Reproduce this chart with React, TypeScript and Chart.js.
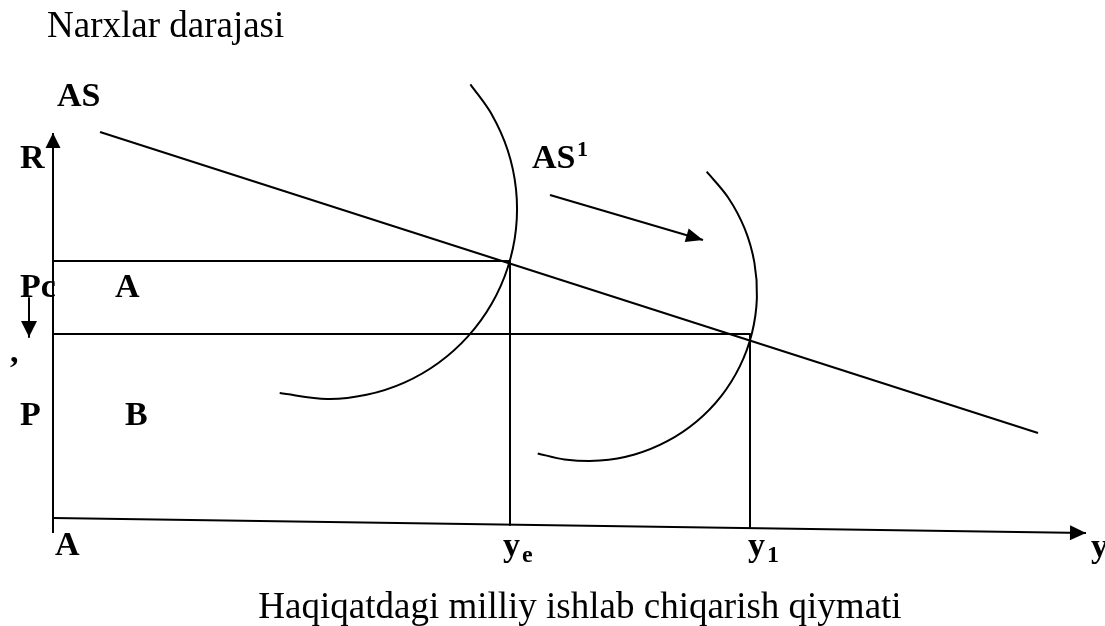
import React, { useEffect, useRef } from "react";
import { Chart, registerables } from "chart.js";

Chart.register(...registerables);

// Diagram geometry, in diagram units (x: output, y: price level drawn top-down)
const priceAxis = [{ x: 53, y: 533 }, { x: 53, y: 133 }];
const outputAxis = [{ x: 53, y: 518 }, { x: 1086, y: 533 }];
const asLine = [{ x: 100, y: 132 }, { x: 1038, y: 433 }];
const pcLevel = [{ x: 53, y: 261 }, { x: 510, y: 261 }];
const pLevel = [{ x: 53, y: 334 }, { x: 750, y: 334 }];
const yeDrop = [{ x: 510, y: 261 }, { x: 510, y: 525 }];
const y1Drop = [{ x: 750, y: 334 }, { x: 750, y: 527 }];
const curveOne = [
  { x: 470.4, y: 84.3 }, { x: 491.5, y: 114 }, { x: 507.7, y: 150.3 }, { x: 516, y: 189.1 },
  { x: 516, y: 228.9 }, { x: 507.7, y: 267.7 }, { x: 491.5, y: 304 }, { x: 468.2, y: 336.1 },
  { x: 438.7, y: 362.7 }, { x: 404.3, y: 382.6 }, { x: 366.5, y: 394.8 }, { x: 327, y: 399 },
  { x: 279.7, y: 393 },
];
const curveTwo = [
  { x: 706.7, y: 171.7 }, { x: 728.1, y: 197.5 }, { x: 744.7, y: 228.7 }, { x: 754.4, y: 262.7 },
  { x: 756.9, y: 297.9 }, { x: 752, y: 332.9 }, { x: 739.9, y: 366.1 }, { x: 721.2, y: 396.1 },
  { x: 696.6, y: 421.5 }, { x: 667.3, y: 441.2 }, { x: 634.6, y: 454.5 }, { x: 599.8, y: 460.6 },
  { x: 564.5, y: 459.4 }, { x: 537.7, y: 453.4 },
];
const shiftArrow = [{ x: 550, y: 195 }, { x: 703, y: 240 }];
const priceDropArrow = [{ x: 29, y: 298 }, { x: 29, y: 337 }];

const labelTexts = ["Narxlar darajasi", "AS", "R", "Pc", "A", ",", "P", "B", "AS", "1", "A", "y", "e", "y", "1", "y", "Haqiqatdagi milliy ishlab chiqarish qiymati"];
const labelX = [47, 57, 20, 20, 115, 10, 20, 125, 532, 577, 55, 503, 522, 748, 767, 1091, 580];
const labelY = [37, 106, 168, 297, 297, 362, 425, 425, 168, 156, 555, 556, 562, 556, 562, 557, 618];
const labelSize = [37, 34, 34, 34, 34, 34, 34, 34, 34, 22, 34, 34, 24, 34, 24, 34, 37];
const labelBold = [false, true, true, true, true, true, true, true, true, true, true, true, true, true, true, true, false];
const labelAlign = ["left", "left", "left", "left", "left", "left", "left", "left", "left", "left", "left", "left", "left", "left", "left", "left", "center"];

const FONT = '"Liberation Serif", "Times New Roman", serif';

const arrowPlugin = {
  id: "arrowHeads",
  afterDatasetsDraw(chart: any) {
    const ctx = chart.ctx;
    chart.data.datasets.forEach((ds: any, i: number) => {
      if (!ds.arrowEnd) return;
      const meta = chart.getDatasetMeta(i);
      const pts = meta.data;
      if (pts.length < 2) return;
      const a = pts[pts.length - 2];
      const b = pts[pts.length - 1];
      const ang = Math.atan2(b.y - a.y, b.x - a.x);
      const len = ds.arrowLen || 16;
      const hw = ds.arrowHalf || 7;
      ctx.save();
      ctx.translate(b.x, b.y);
      ctx.rotate(ang);
      ctx.beginPath();
      ctx.moveTo(0, 0);
      ctx.lineTo(-len, -hw);
      ctx.lineTo(-len, hw);
      ctx.closePath();
      ctx.fillStyle = "#000";
      ctx.fill();
      ctx.restore();
    });
  },
};

const textPlugin = {
  id: "diagramText",
  afterDatasetsDraw(chart: any) {
    const ctx = chart.ctx;
    const xs = chart.scales.x;
    const ys = chart.scales.y;
    ctx.save();
    ctx.fillStyle = "#000";
    ctx.textBaseline = "alphabetic";
    labelTexts.forEach((t, i) => {
      ctx.font = `${labelBold[i] ? "bold " : ""}${labelSize[i]}px ${FONT}`;
      ctx.textAlign = labelAlign[i] as CanvasTextAlign;
      ctx.fillText(t, xs.getPixelForValue(labelX[i]), ys.getPixelForValue(labelY[i]));
    });
    ctx.restore();
  },
};

function seg(data: any[], width: number, extra: any = {}) {
  return {
    data,
    showLine: true,
    borderColor: "#000",
    backgroundColor: "#000",
    borderWidth: width,
    pointRadius: 0,
    pointHoverRadius: 0,
    tension: 0,
    clip: false,
    borderJoinStyle: "round",
    ...extra,
  };
}

export default function App() {
  const ref = useRef<HTMLCanvasElement | null>(null);
  useEffect(() => {
    if (!ref.current) return;
    const chart = new Chart(ref.current, {
      type: "scatter",
      data: {
        datasets: [
          seg(priceAxis, 2, { arrowEnd: true, arrowLen: 15, arrowHalf: 7.5 }),
          seg(outputAxis, 2, { arrowEnd: true, arrowLen: 16, arrowHalf: 7.5 }),
          seg(asLine, 2),
          seg(pcLevel, 2),
          seg(pLevel, 2),
          seg(yeDrop, 2),
          seg(y1Drop, 2),
          seg(curveOne, 2, { tension: 0.34 }),
          seg(curveTwo, 2, { tension: 0.34 }),
          seg(shiftArrow, 2, { arrowEnd: true, arrowLen: 17, arrowHalf: 7 }),
          seg(priceDropArrow, 2, { arrowEnd: true, arrowLen: 16, arrowHalf: 8 }),
        ] as any,
      },
      options: {
        animation: false,
        responsive: false,
        maintainAspectRatio: false,
        layout: { padding: 0 },
        plugins: { legend: { display: false }, tooltip: { enabled: false } },
        events: [],
        scales: {
          x: { type: "linear", min: 0, max: 1105, display: false },
          y: { type: "linear", min: 0, max: 626, reverse: true, display: false },
        },
      },
      plugins: [arrowPlugin, textPlugin],
    });
    return () => chart.destroy();
  }, []);
  return (
    <div style={{ position: "absolute", left: 0, top: 0, width: 1105, height: 626, background: "#fff" }}>
      <canvas ref={ref} width={1105} height={626} style={{ width: 1105, height: 626, display: "block" }} />
    </div>
  );
}
